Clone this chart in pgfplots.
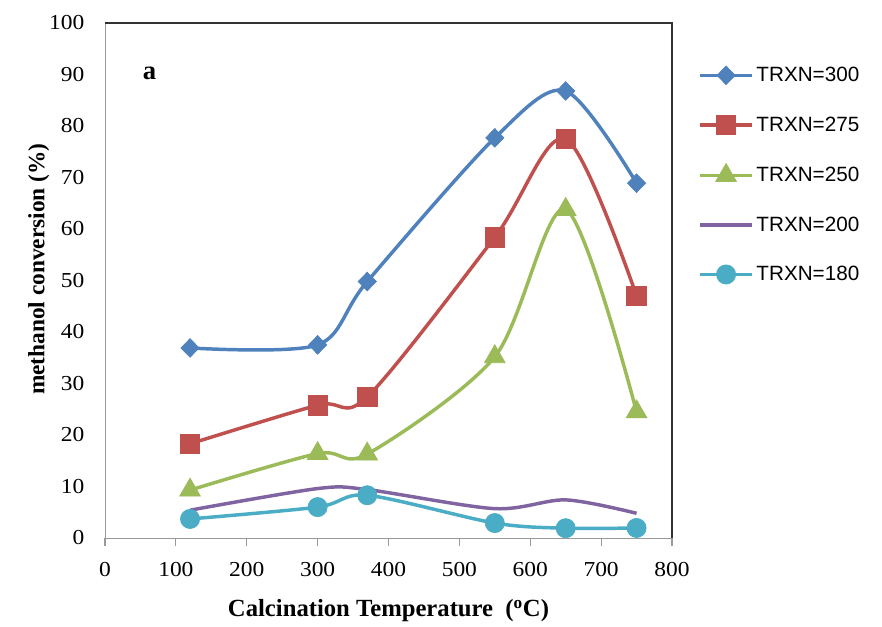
\documentclass[border=0pt]{standalone}
\usepackage{pgfplots}
\pgfplotsset{compat=1.18}
\usepackage{fontspec}
\setmainfont{Liberation Serif}
\newfontfamily\legfont{Liberation Sans}
\newfontfamily\tickfont[FakeStretch=1.1]{Liberation Serif}
\definecolor{cA}{HTML}{4F81BD}
\definecolor{cB}{HTML}{C0504D}
\definecolor{cC}{HTML}{9BBB59}
\definecolor{cD}{HTML}{8064A2}
\definecolor{cE}{HTML}{4BACC6}
\begin{document}
\begin{tikzpicture}
\begin{axis}[
  scale only axis, width=425.25pt, height=386.25pt,
  xmin=0, xmax=800, ymin=0, ymax=100,
  xtick={0,100,...,800}, ytick={0,10,...,100},
  axis line style={draw=gray!80},
  tick style={draw=gray!80, line width=0.8pt},
  xtick pos=bottom, ytick pos=left,
  xtick align=outside, major tick length=6pt,
  ytick style={draw=none},
  /pgf/number format/assume math mode=true,
  ticklabel style={font=\tickfont\fontsize{16}{19}\selectfont},
  xticklabel style={yshift=-9pt},
  yticklabel style={xshift=-12pt},
  xlabel={\textbf{Calcination Temperature~~(\textsuperscript{o}C)}},
  ylabel={\textbf{methanol conversion (\%)}},
  xlabel style={font=\fontsize{18.5}{21}\selectfont, yshift=-10pt},
  ylabel style={font=\fontsize{17.5}{21}\selectfont, at={(axis description cs:-0.117,0.522)}, anchor=center},
  legend style={at={(1.046,0.92)}, anchor=north west, draw=none, fill=none,
    font=\legfont\fontsize{15.5}{18}\selectfont, row sep=20.8pt, inner sep=0pt},
  legend cell align=left,
  legend image code/.code={\draw[#1, line width=2.6pt, mark repeat=2, mark phase=2] plot coordinates {(0pt,0pt) (19.5pt,0pt) (39pt,0pt)};},
  every axis plot/.append style={line width=2.6pt, smooth},
  clip=false,
]
\addplot[color=cA, mark=diamond*, mark size=7pt, mark options={xscale=1.3, line width=0.5pt}]
  coordinates {(120,36.9) (300,37.5) (370,49.8) (550,77.7) (650,86.8) (750,68.9)};
\addlegendentry{TRXN=300}
\addplot[color=cB, mark=square*, mark size=7.3pt, mark options={line width=0.5pt}]
  coordinates {(120,18.3) (300,25.8) (370,27.4) (550,58.4) (650,77.5) (750,47.0)};
\addlegendentry{TRXN=275}
\addplot[color=cC, mark=triangle*, mark size=9pt, mark options={line width=0.5pt}]
  coordinates {(120,9.3) (300,16.4) (370,16.3) (550,35.2) (650,63.8) (750,24.5)};
\addlegendentry{TRXN=250}
\addplot[color=cD, no marks]
  coordinates {(120,5.4) (300,9.6) (370,9.4) (550,5.7) (650,7.4) (750,4.8)};
\addlegendentry{TRXN=200}
\addplot[color=cE, mark=*, mark size=7.2pt, mark options={line width=0.5pt}]
  coordinates {(120,3.7) (300,6.0) (370,8.3) (550,2.9) (650,1.9) (750,1.95)};
\addlegendentry{TRXN=180}
\draw[black!80, line width=0.8pt] (rel axis cs:0,1) -- (rel axis cs:1,1) -- (rel axis cs:1,0);
\node[font=\bfseries\fontsize{20}{24}\selectfont] at (axis cs:63,90.3) {a};
\end{axis}
\path[use as bounding box] (-78.75pt,-63pt) rectangle (582.75pt,403.5pt);
\end{tikzpicture}
\end{document}
